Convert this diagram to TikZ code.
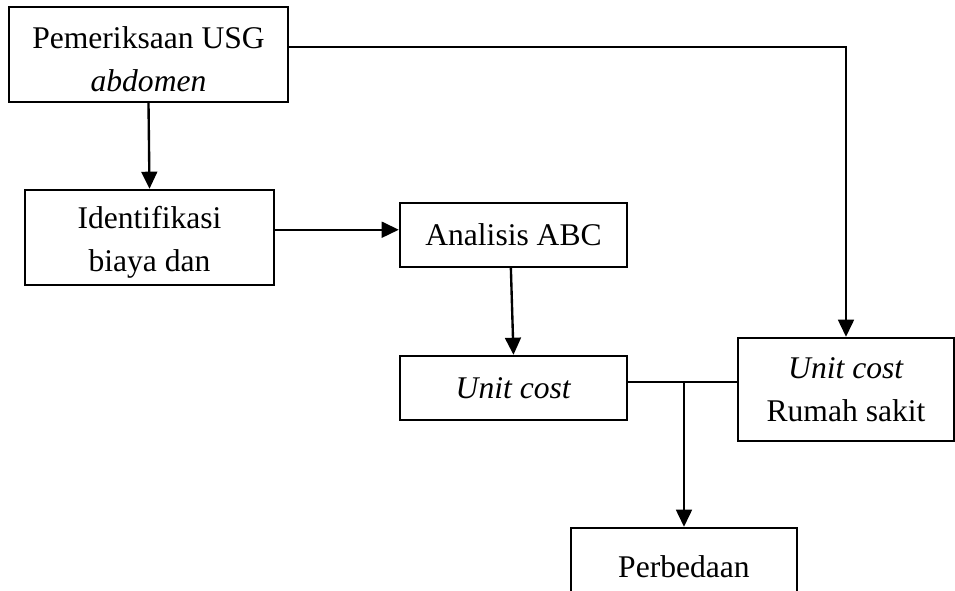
\documentclass[tikz,border=0pt]{standalone}
\usepackage{fontspec}
\setmainfont{Liberation Serif}
\usetikzlibrary{arrows.meta}

\begin{document}
\begin{tikzpicture}
[
	x=0.38pt, y=-0.38pt,
	box/.style={draw, line width=0.9pt, inner sep=0pt, align=center, font=\fontsize{12}{16.5}\selectfont},
	myArrow/.style={line width=0.9pt, -{Triangle[length=6.5pt,width=6pt]}},
	myLine/.style={line width=0.9pt}
]

\def\px{0.38pt}
\def\topgap{\rule{0pt}{12pt}}

% Fix page size
\useasboundingbox (0,0) rectangle (955,591);
\clip (0,0) rectangle (955,591);

% Draw boxes
\node[box, minimum width=279*\px, minimum height=95*\px] (usg) at (148.5,54.5) {\topgap Pemeriksaan USG\\\textit{abdomen}};
\node[box, minimum width=249*\px, minimum height=95*\px] (ident) at (149.5,237.5) {\topgap Identifikasi\\biaya dan};
\node[box, minimum width=227*\px, minimum height=64*\px] (ana) at (513.5,235) {Analisis ABC};
\node[box, minimum width=227*\px, minimum height=64*\px] (uc) at (513.5,388) {\textit{Unit cost}};
\node[box, minimum width=216*\px, minimum height=103*\px] (rs) at (846,389.5) {\textit{Unit cost}\\Rumah sakit};
\node[box, minimum width=226*\px, minimum height=78*\px] (per) at (684,567) {Perbedaan};

% Draw arrows
\draw[myArrow] (usg.south) -- (ident.north);
\draw[myArrow] ([yshift=2pt]ident.east |- ana.west) -- ([yshift=2pt]ana.west);
\draw[myArrow] ([xshift=-1pt]ana.south) -- (uc.north);
\draw[myArrow] ([yshift=2.85pt]usg.east) -| (rs.north);

% Join both unit costs
\coordinate (join) at ([yshift=2.3pt]uc.east);
\draw[myLine] (join) -- (join -| rs.west);
\coordinate (split) at (join -| per.north);
\draw[myArrow] (split) -- (per.north);

\end{tikzpicture}
\end{document}
